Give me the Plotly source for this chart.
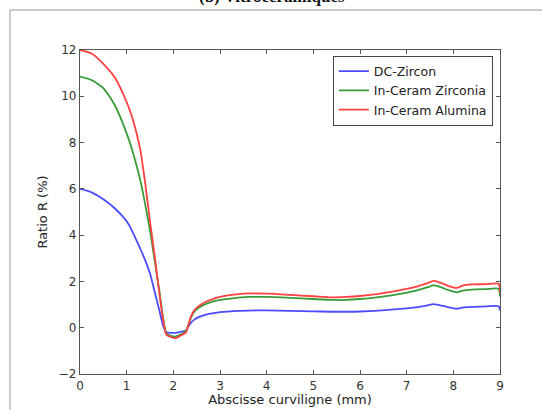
import plotly.graph_objects as go

x_mm = [0, 0.25, 0.5, 0.75, 1.0, 1.1, 1.2, 1.3, 1.4, 1.5, 1.6, 1.7, 1.78, 1.85, 1.95, 2.05,
        2.15, 2.27, 2.32, 2.38, 2.45, 2.57, 2.7, 2.86, 3.0, 3.3, 3.6, 4.0, 4.5, 5.0, 5.4,
        5.7, 6.0, 6.4, 6.8, 7.2, 7.45, 7.57, 7.7, 7.9, 8.07, 8.2, 8.4, 8.7, 8.97, 9.0]

dc_zircon = [6.0, 5.85, 5.55, 5.15, 4.6, 4.25, 3.82, 3.38, 2.9, 2.34, 1.55, 0.75, 0.1, -0.2,
             -0.22, -0.22, -0.18, -0.12, 0.05, 0.22, 0.35, 0.48, 0.57, 0.63, 0.67, 0.72, 0.74,
             0.75, 0.73, 0.71, 0.69, 0.69, 0.7, 0.74, 0.8, 0.88, 0.97, 1.02, 0.98, 0.88, 0.82,
             0.87, 0.9, 0.92, 0.93, 0.75]

inceram_zirconia = [10.85, 10.7, 10.35, 9.6, 8.4, 7.8, 7.1, 6.3, 5.3, 4.2, 2.9, 1.6, 0.45,
                    -0.25, -0.35, -0.38, -0.3, -0.15, 0.1, 0.45, 0.7, 0.9, 1.03, 1.14, 1.2,
                    1.28, 1.33, 1.33, 1.29, 1.24, 1.2, 1.2, 1.24, 1.32, 1.44, 1.6, 1.75, 1.83,
                    1.78, 1.62, 1.53, 1.6, 1.65, 1.67, 1.68, 1.35]

inceram_alumina = [12.0, 11.85, 11.4, 10.8, 9.75, 9.2, 8.5, 7.6, 6.2, 4.6, 3.1, 1.5, 0.35,
                   -0.3, -0.4, -0.45, -0.35, -0.2, 0.1, 0.5, 0.75, 0.97, 1.12, 1.25, 1.33,
                   1.43, 1.48, 1.47, 1.42, 1.36, 1.31, 1.33, 1.37, 1.46, 1.6, 1.76, 1.93, 2.02,
                   1.96, 1.8, 1.72, 1.82, 1.87, 1.88, 1.9, 1.5]

series_names = ["DC-Zircon", "In-Ceram Zirconia", "In-Ceram Alumina"]
series_colors = ["rgb(75,75,255)", "rgb(55,155,55)", "rgb(255,65,65)"]
x_ticks = [0, 1, 2, 3, 4, 5, 6, 7, 8, 9]
y_ticks = [-2, 0, 2, 4, 6, 8, 10, 12]

fig = go.Figure()
for name, ys, col in zip(series_names, [dc_zircon, inceram_zirconia, inceram_alumina], series_colors):
    fig.add_trace(go.Scatter(x=x_mm, y=ys, mode="lines", name=name,
                             line=dict(color=col, width=1.8, shape="spline", smoothing=0.6)))

axis_common = dict(showgrid=False, zeroline=False, showline=True, linecolor="#555",
                   linewidth=1.2, mirror="allticks", ticks="inside", ticklen=4,
                   tickcolor="#555", automargin=False,
                   tickfont=dict(family="DejaVu Sans", size=12, color="#333"))

fig.update_layout(
    width=542, height=410,
    margin=dict(l=80, r=42, t=50, b=36),
    paper_bgcolor="white", plot_bgcolor="white",
    font=dict(family="DejaVu Sans", color="#222"),
    xaxis=dict(range=[0, 9], tickvals=x_ticks,
               title=dict(text="Abscisse curviligne (mm)", font=dict(size=13), standoff=2),
               **axis_common),
    yaxis=dict(range=[-2, 12], tickvals=y_ticks,
               title=dict(text="Ratio R (%)", font=dict(size=13), standoff=8),
               **axis_common),
    legend=dict(x=0.983, y=0.983, xanchor="right", yanchor="top",
                bgcolor="white", bordercolor="#444", borderwidth=1,
                font=dict(size=12.5, family="DejaVu Sans", color="#222"),
                tracegroupgap=0, itemwidth=30),
    showlegend=True,
)

# page frame lines of the surrounding document
fig.add_shape(type="line", xref="paper", yref="paper", x0=-0.1667, x1=-0.1667,
              y0=-0.2, y1=1.1235, line=dict(color="#bbbbbb", width=1.5))
fig.add_shape(type="line", xref="paper", yref="paper", x0=-0.1667, x1=1.2,
              y0=1.1235, y1=1.1235, line=dict(color="#bbbbbb", width=1.5))

fig.add_annotation(text="<b>(b) Vitrocéramiques</b>", xref="paper", yref="paper",
                   x=(272 - 80) / 420, y=1.129, xanchor="center", yanchor="bottom",
                   showarrow=False, font=dict(family="Liberation Serif", size=17, color="#111"))

fig.write_html("out.html", config={"displayModeBar": False},
               post_script="document.body.style.margin='0';document.body.style.overflow='hidden';")
